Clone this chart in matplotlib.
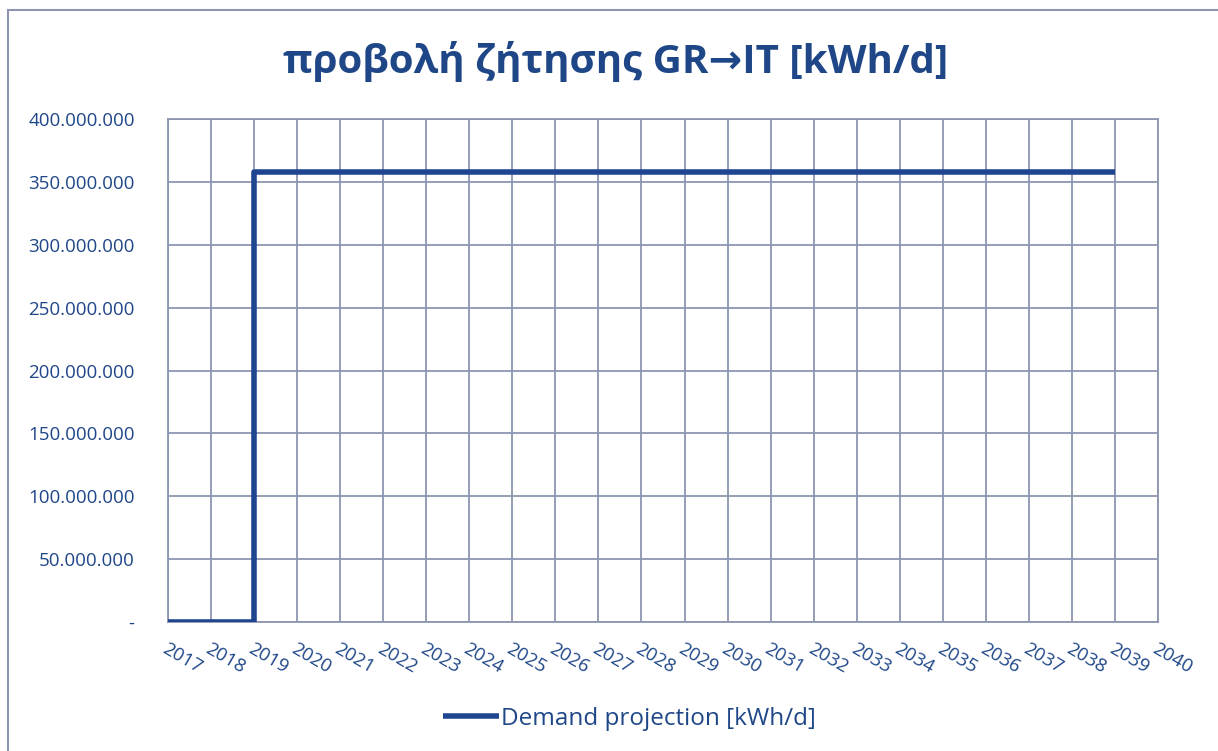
import numpy as np
import matplotlib.pyplot as plt
from matplotlib.patches import Rectangle
from matplotlib.ticker import FuncFormatter

plt.rcParams['font.family'] = ['Open Sans', 'DejaVu Sans']

years = list(range(2017, 2041))
demand_years = list(range(2017, 2040))
demand = [0, 0] + [357500000] * 21
yticks = [0, 50e6, 100e6, 150e6, 200e6, 250e6, 300e6, 350e6, 400e6]

text_col = '#1F4788'
line_col = '#1F4591'
grid_col = '#8E95B1'


def fmt(v, pos):
    if v == 0:
        return '-'
    return '{:,.0f}'.format(v).replace(',', '.')


fig = plt.figure(figsize=(12.18, 7.51), dpi=100)
fig.patches.append(Rectangle((8 / 1218, -0.05), 1.1, 1 - 10 / 751 + 0.05,
                             transform=fig.transFigure, fill=False,
                             edgecolor=grid_col, linewidth=1.5))

ax = fig.add_axes([168 / 1218, 1 - 622 / 751, 990 / 1218, 503 / 751])
ax.plot(demand_years, demand, drawstyle='steps-post', color=line_col,
        linewidth=4, solid_capstyle='butt', label='Demand projection [kWh/d]',
        zorder=3)

ax.set_xlim(2017, 2040)
ax.set_ylim(0, 400e6)
ax.set_xticks(years)
ax.set_xticklabels([str(y) for y in years], rotation=-30, ha='left',
                   rotation_mode='anchor', fontsize=13.5, color=text_col)
ax.set_yticks(yticks)
ax.yaxis.set_major_formatter(FuncFormatter(fmt))
ax.tick_params(axis='y', length=0, pad=24, labelsize=13.5, labelcolor=text_col)
ax.tick_params(axis='x', length=0, pad=13)
ax.grid(True, color=grid_col, linewidth=1.3)
for s in ax.spines.values():
    s.set_color(grid_col)
    s.set_linewidth(1.3)

fig.text(616 / 1218, 1 - 62 / 751, 'προβολή ζήτησης GR→IT [kWh/d]',
         ha='center', va='center', fontsize=29, fontweight='bold',
         color=text_col)

fig.legend(loc='center', bbox_to_anchor=(0.517, 1 - 719 / 751), frameon=False,
           fontsize=17.5, labelcolor=text_col, handlelength=2.3,
           handletextpad=0.1)

fig.savefig('out.png', dpi=100)
